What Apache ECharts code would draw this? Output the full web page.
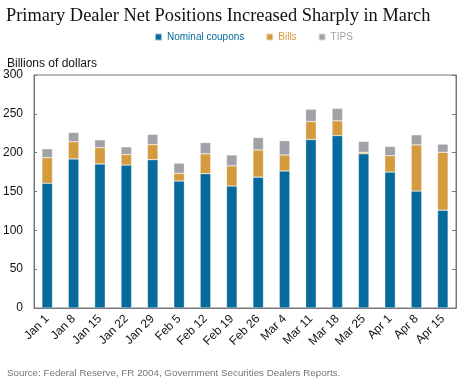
<!DOCTYPE html>
<html><head><meta charset="utf-8">
<script src="https://cdn.jsdelivr.net/npm/echarts@6/dist/echarts.min.js"></script>
<style>html,body{margin:0;padding:0;background:#fff}#c{width:460px;height:379px}</style>
</head><body><div id="c"></div>
<script>
const categories = ["Jan 1","Jan 8","Jan 15","Jan 22","Jan 29","Feb 5","Feb 12","Feb 19","Feb 26","Mar 4","Mar 11","Mar 18","Mar 25","Apr 1","Apr 8","Apr 15"];
const nominalCoupons = [160.5,192,185.5,184,191,163.5,173,157,168.5,176.5,217,222,198.5,175,150.5,126];
const bills = [33,22,21,13.5,19.5,10,25.5,26,35,20.5,23,19,2,21,59.5,74.5];
const tips = [11.5,12,10,10,13,13,14.5,14,16,18.5,16,16,14,12,13,10.5];
const yTicks = [0,50,100,150,200,250,300];

const chart = echarts.init(document.getElementById('c'), null, {renderer:'canvas'});
const barCommon = {type:'bar', stack:'total', barWidth:'40%', itemStyle:{borderColor:'rgba(255,255,255,0.6)', borderWidth:0.5}};
chart.setOption({
  animation:false,
  title:[{text:'Primary Dealer Net Positions Increased Sharply in March', left:1, top:2,
    textStyle:{fontFamily:'Liberation Serif', fontWeight:'normal', fontSize:18.4, color:'#111'}},
    {text:'Billions of dollars', left:2, top:53, textStyle:{fontFamily:'Liberation Sans', fontWeight:'normal', fontSize:12, color:'#111'}},
    {text:'Source: Federal Reserve, FR 2004, Government Securities Dealers Reports.', left:2, top:363, textStyle:{fontFamily:'Liberation Sans', fontWeight:'normal', fontSize:9.8, color:'#777'}}],
  legend:{top:27, left:149, itemWidth:7, itemHeight:7, itemGap:21, icon:'rect',
    textStyle:{fontFamily:'Liberation Sans', fontSize:10, color:'inherit'},
    data:['Nominal coupons','Bills','TIPS']},
  grid:{left:30, right:4, top:75, bottom:71, show:true, borderColor:'#777', borderWidth:1},
  xAxis:{type:'category', data:categories,
    axisLine:{lineStyle:{color:'#777'}},
    axisTick:{inside:true, length:3, interval:0, lineStyle:{color:'#999'}},
    axisLabel:{rotate:45, interval:0, fontFamily:'Liberation Sans', fontSize:12, color:'#111', margin:9}},
  yAxis:[{type:'value', min:0, max:300, interval:50, position:'left',
    axisLine:{show:true, lineStyle:{color:'#777'}},
    axisTick:{show:true, inside:true, length:3, lineStyle:{color:'#777'}},
    splitLine:{show:false},
    axisLabel:{fontFamily:'Liberation Sans', fontSize:12, color:'#111', margin:11}},
    {type:'value', min:0, max:300, interval:50, position:'right',
    axisLine:{show:true, lineStyle:{color:'#777'}},
    axisTick:{show:true, inside:true, length:4, lineStyle:{color:'#777'}},
    splitLine:{show:false}, axisLabel:{show:false}}],
  series:[
    Object.assign({}, barCommon, {name:'Nominal coupons', data:nominalCoupons, itemStyle:Object.assign({}, barCommon.itemStyle, {color:'#046b9c'})}),
    Object.assign({}, barCommon, {name:'Bills', data:bills, itemStyle:Object.assign({}, barCommon.itemStyle, {color:'#d39a3e'})}),
    Object.assign({}, barCommon, {name:'TIPS', data:tips, itemStyle:Object.assign({}, barCommon.itemStyle, {color:'#a1a2a8'})})
  ]
});
</script></body></html>
